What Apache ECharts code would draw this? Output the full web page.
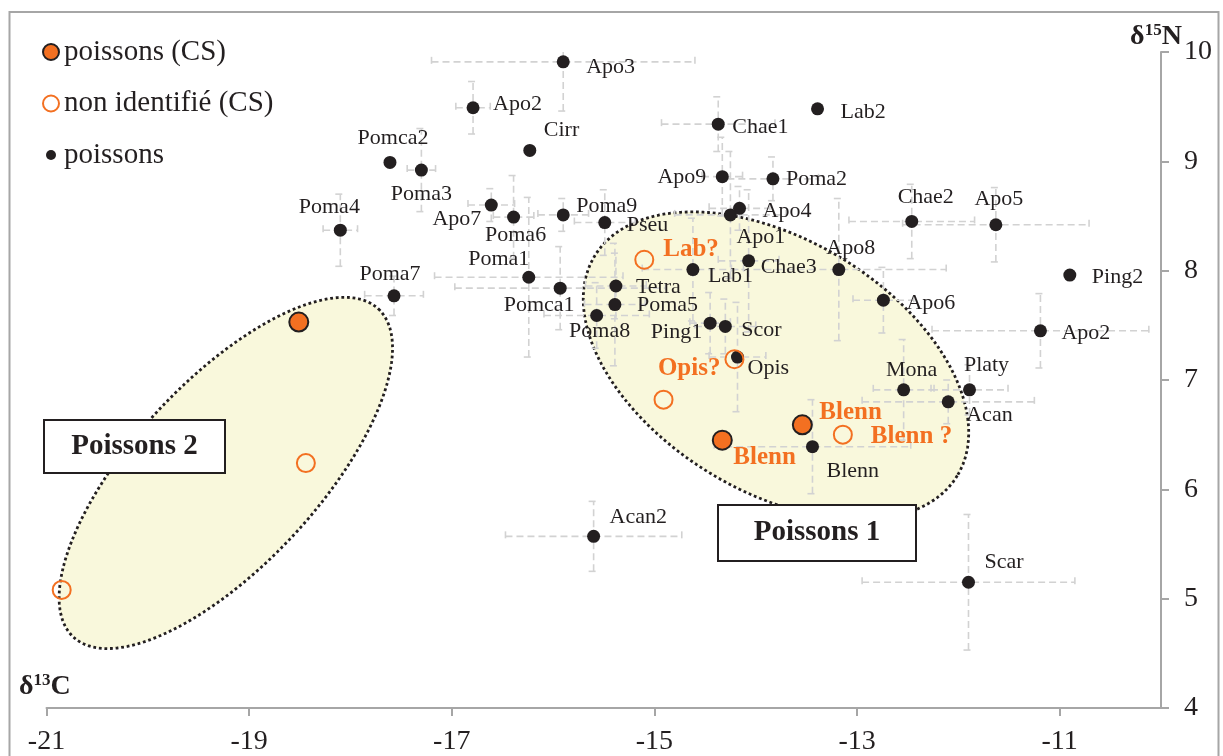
<!DOCTYPE html>
<html><head><meta charset="utf-8">
<script src="https://cdn.jsdelivr.net/npm/echarts@6/dist/echarts.min.js"></script>
<style>html,body{margin:0;padding:0;background:#fff}#c{width:1223px;height:756px}</style>
</head><body><div id="c"></div>
<script>
// ---- data ----
const xTickValues = [-21, -19, -17, -15, -13, -11];
const yTickValues = [4, 5, 6, 7, 8, 9, 10];

const fishNames = ['Apo3','Apo2','Cirr','Pomca2','Poma3','Poma4','Apo7','Poma6','Poma9','Pseu',
  'Chae1','Lab2','Apo9','Poma2','Apo4','Apo1','Chae2','Apo5','Poma1','Pomca1',
  'Poma7','Lab1','Chae3','Apo8','Tetra','Poma5','Poma8','Ping1','Scor','Opis',
  'Apo6','Ping2','Apo2','Mona','Platy','Acan','Blenn','Acan2','Scar'];
const fishD13C = [-15.90,-16.79,-16.23,-17.61,-17.30,-18.10,-16.61,-16.39,-15.90,-15.49,
  -14.37,-13.39,-14.33,-13.83,-14.16,-14.25,-12.46,-11.63,-16.24,-15.93,
  -17.57,-14.62,-14.07,-13.18,-15.38,-15.39,-15.57,-14.45,-14.30,-14.18,
  -12.74,-10.90,-11.19,-12.54,-11.89,-12.10,-13.44,-15.60,-11.90];
const fishD15N = [9.91,9.49,9.10,8.99,8.92,8.37,8.60,8.49,8.51,8.44,
  9.34,9.48,8.86,8.84,8.57,8.51,8.45,8.42,7.94,7.84,
  7.77,8.01,8.09,8.01,7.86,7.69,7.59,7.52,7.49,7.21,
  7.73,7.96,7.45,6.91,6.91,6.80,6.39,5.57,5.15];
const fishSdC = [1.30,0.17,0,0,0.14,0.17,0.23,0.20,0.25,0.30,
  0.56,0,0.20,0.45,0.30,0.55,0.62,0.92,0.93,1.04,
  0.29,0.50,0.30,1.06,0.30,0.30,0.52,0.20,0.30,0.28,
  0.30,0,1.07,0.30,0.38,0.85,0.97,0.87,1.05];
const fishSdN = [0.45,0.24,0,0,0.38,0.33,0.15,0.38,0.15,0.30,
  0.25,0,0.36,0.20,0.20,0.58,0.34,0.34,0.73,0.38,
  0.18,0.47,0.65,0.65,0.30,0.56,0.30,0.28,0.25,0.50,
  0.30,0,0.34,0.46,0.23,0.20,0.43,0.32,0.62];

const csNames = ['', 'Blenn', 'Blenn'];
const csD13C = [-18.51, -14.33, -13.54];
const csD15N = [7.53, 6.45, 6.59];

const unkNames = ['', '', 'Lab?', 'Opis?', '', 'Blenn ?'];
const unkD13C = [-18.44, -20.85, -15.10, -14.21, -14.91, -13.14];
const unkD15N = [6.24, 5.08, 8.10, 7.19, 6.82, 6.50];

const groupNames = ['Poissons 1', 'Poissons 2'];
const groupCenterC = [-13.80, -19.23];
const groupCenterN = [7.13, 6.15];

// ---- layout / style (kept apart from the data) ----
const fishLabelPos = [['left',23,5],['left',20,-4],['left',14,-20],['center',3,-24],['center',0,24],
  ['center',-11,-23],['right',-10,14],['center',2,18],['left',13,-9],['left',22,3],
  ['left',14,3],['left',23,3],['right',-16,1],['left',13,0],['left',23,3],
  ['left',6,22],['center',14,-24],['center',3,-26],['center',-30,-18],['center',-21,17],
  ['center',-4,-22],['left',15,7],['left',12,6],['center',12,-21],['left',20,1],
  ['left',22,1],['center',3,16],['right',-8,9],['left',16,4],['left',10,11],
  ['left',23,3],['left',22,2],['left',21,2],['center',8,-20],['center',17,-25],
  ['left',18,13],['left',14,25],['left',16,-19],['left',16,-20]];
const csLabelPos = [['left',0,0],['left',11,17],['left',17,-12]];
const unkLabelPos = [['left',0,0],['left',0,0],['left',19,-10],['right',-14,9],['left',0,0],['left',28,2]];
const ellipseShape = [{a:212,b:126,rot:31.2},{a:224,b:92,rot:-47.1}];
const groupBox = [{x:718,y:505,w:198,h:56},{x:44,y:420,w:181,h:53}];

const FONT = '"Liberation Serif", "Times New Roman", serif';
const INK = '#231f20';
const ORANGE = '#f37021';
const AXIS = '#a6a6a6';

const chart = echarts.init(document.getElementById('c'));

function mkData(names, xs, ys, pos) {
  return names.map((n, i) => ({
    name: n, value: [xs[i], ys[i]],
    label: {show: n !== '', align: pos[i][0], offset: [pos[i][1], pos[i][2]]}
  }));
}

const labelBase = {show: true, position: 'inside', verticalAlign: 'middle', fontFamily: FONT,
  fontSize: 22, color: INK, textBorderWidth: 0, textBorderColor: 'transparent', formatter: p => p.name};
const csLabel = Object.assign({}, labelBase, {fontSize: 25, fontWeight: 'bold', color: ORANGE});
const richTitle = {
  d: {fontFamily: FONT, fontSize: 28, fontWeight: 'bold', color: INK, lineHeight: 30},
  s: {fontFamily: FONT, fontSize: 17, fontWeight: 'bold', color: INK, lineHeight: 17, verticalAlign: 'top'},
  n: {fontFamily: FONT, fontSize: 28, fontWeight: 'bold', color: INK, lineHeight: 30}
};

const option = {
  animation: false,
  backgroundColor: '#fff',
  grid: {left: 46.5, right: 62, top: 52, bottom: 48, containLabel: false, outerBoundsMode: 'none'},
  xAxis: {
    type: 'value', min: -21, max: -10, interval: 2,
    name: '{d|δ}{s|13}{n|C}', nameLocation: 'start', nameGap: 27.5, nameMoveOverlap: false,
    nameTextStyle: {align: 'left', verticalAlign: 'bottom', padding: [0, 0, 6, 0], rich: richTitle},
    axisLine: {show: true, onZero: false, lineStyle: {color: AXIS, width: 2}},
    axisTick: {show: true, inside: false, length: 8, customValues: xTickValues, lineStyle: {color: AXIS, width: 2}},
    axisLabel: {margin: 20, fontFamily: FONT, fontSize: 28, color: INK, customValues: xTickValues},
    splitLine: {show: false}
  },
  yAxis: {
    type: 'value', min: 4, max: 10, interval: 1, position: 'right',
    name: '{d|δ}{s|15}{n|N}', nameLocation: 'end', nameGap: 15, nameMoveOverlap: false,
    nameTextStyle: {align: 'center', verticalAlign: 'middle', padding: [0, 10, 0, 0], rich: richTitle},
    axisLine: {show: true, onZero: false, lineStyle: {color: AXIS, width: 2}},
    axisTick: {show: true, inside: false, length: 8, customValues: yTickValues, lineStyle: {color: AXIS, width: 2}},
    axisLabel: {margin: 23, fontFamily: FONT, fontSize: 28, color: INK, customValues: yTickValues},
    splitLine: {show: false}
  },
  legend: {
    show: true, orient: 'vertical', left: 42, top: 37.5, padding: 0, itemGap: 22.5,
    itemWidth: 16, itemHeight: 16, selectedMode: false,
    textStyle: {fontFamily: FONT, fontSize: 29, color: INK, lineHeight: 29},
    data: [
      {name: 'poissons (CS)', icon: 'circle'},
      {name: 'non identifié (CS)', icon: 'circle'},
      {name: 'poissons', icon: 'path://M0,0M16,16M3,8A5,5,0,1,0,13,8A5,5,0,1,0,3,8Z'}
    ]
  },
  series: [
    {
      type: 'custom', name: 'groupes', z: 1, silent: true, clip: false,
      data: groupNames.map((n, i) => ({name: n, value: [groupCenterC[i], groupCenterN[i], i]})),
      renderItem(params, api) {
        const c = api.coord([api.value(0), api.value(1)]);
        const sh = ellipseShape[api.value(2)];
        const th = sh.rot * Math.PI / 180, ct = Math.cos(th), st = Math.sin(th);
        const pts = [];
        for (let k = 0; k < 240; k++) {
          const t = 2 * Math.PI * k / 240;
          const ex = sh.a * Math.cos(t), ey = sh.b * Math.sin(t);
          pts.push([c[0] + ex * ct - ey * st, c[1] + ex * st + ey * ct]);
        }
        return {type: 'polygon', shape: {points: pts},
          style: {fill: '#f9f8dc', stroke: INK, lineWidth: 2.8, lineDash: [2.8, 2.8]}};
      }
    },
    {
      type: 'custom', name: 'écart-type', z: 2, silent: true, clip: true,
      data: fishNames.map((n, i) => [fishD13C[i], fishD15N[i], fishSdC[i], fishSdN[i]]),
      renderItem(params, api) {
        const x = api.value(0), y = api.value(1), sx = api.value(2), sy = api.value(3);
        const st = {stroke: '#d2d2d2', lineWidth: 1.6, lineDash: [7, 4], fill: null};
        const cap = 5, ch = [];
        const ln = (p, q) => ({type: 'line', shape: {x1: p[0], y1: p[1], x2: q[0], y2: q[1]}, style: st});
        if (sx > 0) {
          const a = api.coord([x - sx, y]), b = api.coord([x + sx, y]);
          ch.push(ln(a, b), ln([a[0], a[1] - cap], [a[0], a[1] + cap]), ln([b[0], b[1] - cap], [b[0], b[1] + cap]));
        }
        if (sy > 0) {
          const a = api.coord([x, y - sy]), b = api.coord([x, y + sy]);
          ch.push(ln(a, b), ln([a[0] - cap, a[1]], [a[0] + cap, a[1]]), ln([b[0] - cap, b[1]], [b[0] + cap, b[1]]));
        }
        return {type: 'group', children: ch};
      }
    },
    {
      type: 'scatter', name: 'poissons', z: 5, symbol: 'circle', symbolSize: 13,
      itemStyle: {color: INK, opacity: 1},
      label: labelBase, emphasis: {disabled: true},
      data: mkData(fishNames, fishD13C, fishD15N, fishLabelPos)
    },
    {
      type: 'scatter', name: 'non identifié (CS)', z: 6, symbol: 'circle', symbolSize: 18,
      itemStyle: {color: 'rgba(255,255,255,0)', borderColor: ORANGE, borderWidth: 2, opacity: 1},
      label: csLabel, emphasis: {disabled: true},
      data: mkData(unkNames, unkD13C, unkD15N, unkLabelPos)
    },
    {
      type: 'scatter', name: 'poissons (CS)', z: 7, symbol: 'circle', symbolSize: 19,
      itemStyle: {color: ORANGE, borderColor: INK, borderWidth: 2, opacity: 1},
      label: csLabel, emphasis: {disabled: true},
      data: mkData(csNames, csD13C, csD15N, csLabelPos)
    }
  ],
  graphic: [
    {type: 'rect', z: 0, silent: true, shape: {x: 9.5, y: 12, width: 1209, height: 800},
      style: {fill: null, stroke: AXIS, lineWidth: 2}}
  ].concat(groupNames.map((n, i) => ({
    type: 'group', z: 100, zlevel: 0, silent: true, children: [
      {type: 'rect', z: 100, shape: {x: groupBox[i].x, y: groupBox[i].y, width: groupBox[i].w, height: groupBox[i].h},
        style: {fill: '#fff', stroke: INK, lineWidth: 2}},
      {type: 'text', z: 101, x: groupBox[i].x + groupBox[i].w / 2, y: groupBox[i].y + groupBox[i].h / 2,
        style: {text: n, align: 'center', verticalAlign: 'middle', fontFamily: FONT, fontSize: 29,
          fontWeight: 'bold', fill: INK}}
    ]
  })))
};
chart.setOption(option);
</script></body></html>
